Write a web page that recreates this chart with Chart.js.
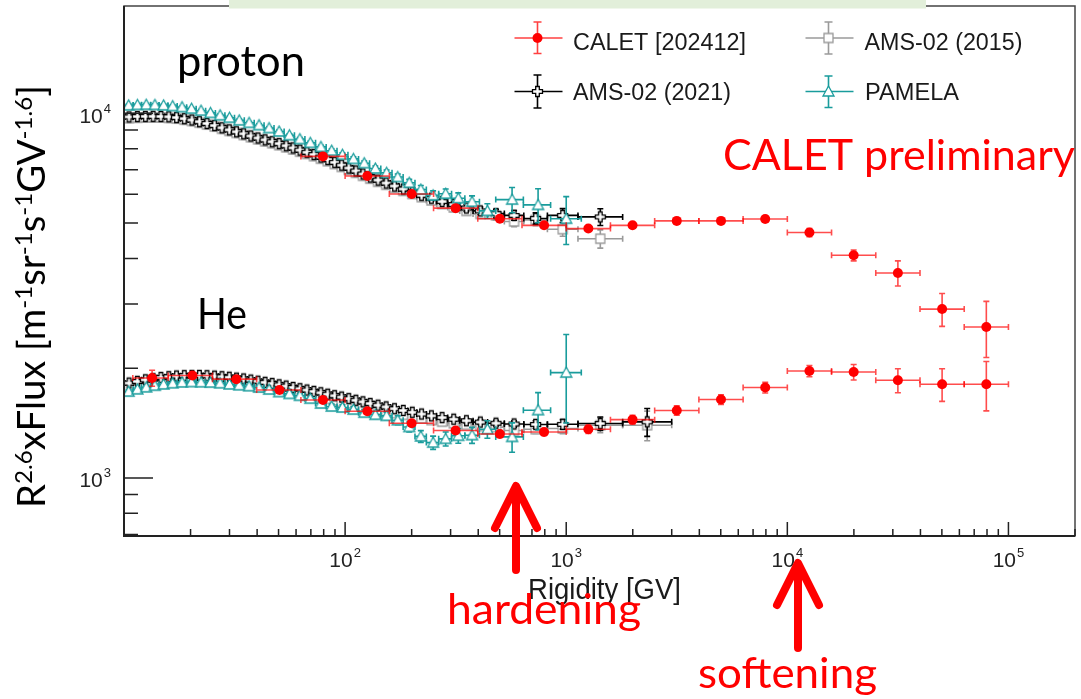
<!DOCTYPE html>
<html>
<head>
<meta charset="utf-8">
<title>Proton and helium spectra</title>
<script src="https://cdn.jsdelivr.net/npm/chart.js@4.4.1/dist/chart.umd.min.js"></script>
<style>
  html, body { margin: 0; padding: 0; background: #fff; }
  #wrap { position: relative; width: 1081px; height: 699px; }
</style>
</head>
<body>
<div id="wrap"><canvas id="fluxChart" width="1081" height="699"></canvas></div>
<script>
// ---- CALET (proton / He), bins of 0.2 decade ----
const caletP_R = [79.4, 126, 200, 316, 501, 794, 1259, 1995, 3162, 5012, 7943, 12589, 19953, 31623, 50119, 79433];
const caletP_F = [7620, 6730, 6010, 5495, 5140, 4930, 4830, 4930, 5070, 5070, 5130, 4710, 4080, 3650, 2905, 2594];
const caletP_err = [45, 40, 35, 35, 35, 40, 45, 50, 60, 70, 90, 120, 140, 290, 300, 455];
const caletP_edges = [63.1, 100, 158.5, 251.2, 398.1, 631, 1000, 1585, 2512, 3981, 6310, 10000, 15849, 25119, 39811, 63096, 100000];

const caletHe_R = [13.4, 20.4, 32.2, 50.5, 79.4, 126, 200, 316, 501, 794, 1259, 1995, 3162, 5012, 7943, 12589, 19953, 31623, 50119, 79433];
const caletHe_F = [1880, 1909, 1866, 1743, 1636, 1524, 1412, 1349, 1320, 1337, 1360, 1445, 1531, 1641, 1770, 1965, 1952, 1853, 1807, 1807];
const caletHe_err = [95, 30, 25, 25, 25, 25, 25, 25, 28, 30, 35, 40, 45, 50, 60, 70, 95, 140, 185, 280];
const caletHe_edges = [10.96, 15.85, 25.12, 39.81, 63.1, 100, 158.5, 251.2, 398.1, 631, 1000, 1585, 2512, 3981, 6310, 10000, 15849, 25119, 39811, 63096, 100000];

// ---- AMS-02 rigidity bins above 10 GV ----
const amsEdges = [10.1, 11.0, 12.0, 13.0, 14.1, 15.3, 16.6, 18.0, 19.5, 21.1, 22.8, 24.7, 26.7, 28.8, 31.1, 33.5, 36.1, 38.9, 41.9, 45.1,
  48.5, 52.2, 56.1, 60.3, 64.8, 69.7, 74.9, 80.5, 86.5, 93.0, 100, 108, 116, 125, 135, 147, 160, 175, 192, 211,
  233, 259, 291, 330, 379, 441, 525, 643, 822, 1130, 1800, 3000];

const ams21P_F = [9780, 9800, 9810, 9815, 9805, 9785, 9740, 9670, 9590, 9490, 9380, 9260, 9130, 9010, 8900, 8790, 8670, 8560, 8460, 8360,
  8260, 8150, 8040, 7930, 7820, 7710, 7590, 7470, 7340, 7210, 7080, 6950, 6820, 6690, 6560, 6440, 6320, 6200, 6080, 5960,
  5850, 5730, 5620, 5500, 5400, 5310, 5250, 5150, 5250, 5200];
const ams21P_err = [70, 70, 70, 70, 70, 70, 70, 70, 70, 70, 70, 70, 70, 70, 70, 70, 70, 70, 70, 70,
  70, 70, 70, 70, 70, 70, 70, 70, 70, 70, 70, 70, 70, 70, 70, 70, 75, 80, 85, 90,
  95, 100, 110, 120, 130, 145, 160, 185, 230, 275];

const ams15P_F = [9700, 9730, 9745, 9750, 9745, 9720, 9680, 9610, 9530, 9430, 9320, 9200, 9070, 8950, 8840, 8720, 8600, 8490, 8380, 8280,
  8180, 8070, 7960, 7850, 7740, 7630, 7510, 7390, 7260, 7130, 7000, 6870, 6740, 6620, 6490, 6370, 6250, 6130, 6010, 5890,
  5770, 5640, 5520, 5400, 5300, 5250, 5050, 5100, 4810, 4530];
const ams15P_err = [80, 80, 80, 80, 80, 80, 80, 80, 80, 80, 80, 80, 80, 80, 80, 80, 80, 80, 80, 80,
  80, 80, 80, 80, 80, 80, 80, 80, 80, 80, 80, 80, 80, 80, 80, 80, 85, 90, 95, 100,
  105, 110, 120, 130, 140, 150, 160, 180, 210, 260];

const ams21He_F = [1820, 1840, 1858, 1872, 1885, 1895, 1903, 1908, 1910, 1910, 1907, 1902, 1895, 1888, 1878, 1868, 1855, 1842, 1829, 1815,
  1800, 1786, 1771, 1757, 1742, 1727, 1712, 1697, 1681, 1666, 1650, 1633, 1617, 1600, 1583, 1566, 1548, 1531, 1514, 1497,
  1480, 1464, 1449, 1435, 1423, 1413, 1406, 1402, 1403, 1410, 1425];
const ams21He_err = [15, 15, 15, 15, 15, 15, 15, 15, 15, 15, 15, 15, 15, 15, 15, 15, 15, 15, 15, 15,
  15, 15, 15, 15, 15, 15, 15, 15, 15, 15, 15, 15, 15, 15, 15, 15, 15, 15, 15, 15,
  16, 17, 18, 20, 22, 25, 28, 33, 42, 60, 125];

const ams15He_F = [1765, 1785, 1803, 1817, 1829, 1838, 1846, 1851, 1853, 1853, 1850, 1845, 1838, 1831, 1822, 1812, 1800, 1787, 1774, 1761,
  1747, 1733, 1719, 1705, 1691, 1676, 1662, 1647, 1632, 1617, 1602, 1586, 1570, 1554, 1538, 1522, 1505, 1489, 1473, 1457,
  1441, 1426, 1412, 1399, 1388, 1378, 1349, 1360, 1367, 1395, 1395];
const ams15He_err = [16, 16, 16, 16, 16, 16, 16, 16, 16, 16, 16, 16, 16, 16, 16, 16, 16, 16, 16, 16,
  16, 16, 16, 16, 16, 16, 16, 16, 16, 16, 16, 16, 16, 16, 16, 16, 16, 16, 16, 16,
  17, 18, 19, 21, 23, 26, 30, 35, 45, 65, 130];

// ---- PAMELA ----
const pamR = [10.5, 11.5, 12.6, 13.8, 15.1, 16.6, 18.3, 20.2, 22.3, 24.6, 27.2, 30.0, 33.2, 36.8, 40.8, 45.3, 50.3, 56.0, 62.4, 69.6,
  77.7, 86.9, 97.2, 109, 122, 137, 154, 173, 195, 220, 250, 285, 325, 375, 440, 569, 746, 1000];
const pamEdges = [10.0, 11.0, 12.0, 13.2, 14.4, 15.8, 17.4, 19.2, 21.2, 23.4, 25.9, 28.6, 31.6, 35.0, 38.8, 43.0, 47.7, 53.0, 59.0, 65.8,
  73.5, 82.1, 91.9, 103, 115, 129, 145, 163, 183, 207, 233, 265, 303, 348, 405, 480, 640, 850, 1170];
const pamP_F = [10520, 10550, 10560, 10550, 10520, 10470, 10400, 10300, 10170, 10030, 9880, 9730, 9570, 9420, 9280, 9110, 8920, 8710, 8500, 8300,
  8090, 7900, 7700, 7500, 7300, 7060, 6870, 6690, 6450, 6180, 5960, 6020, 5850, 5720, 5400, 5800, 5610, 5140];
const pamP_err = [80, 80, 80, 80, 80, 80, 80, 80, 80, 80, 80, 80, 80, 80, 80, 80, 80, 80, 80, 80,
  80, 85, 90, 95, 100, 110, 120, 130, 140, 160, 170, 180, 200, 220, 250, 460, 600, 770];
const pamHe_F = [1725, 1750, 1772, 1790, 1805, 1818, 1828, 1832, 1830, 1826, 1818, 1805, 1795, 1785, 1770, 1748, 1720, 1700, 1680, 1650,
  1600, 1570, 1560, 1540, 1510, 1490, 1480, 1440, 1380, 1300, 1250, 1280, 1305, 1310, 1360, 1296, 1534, 1945];
const pamHe_err = [20, 20, 20, 20, 20, 20, 20, 20, 20, 20, 20, 20, 20, 20, 20, 20, 20, 20, 20, 20,
  22, 24, 26, 28, 30, 33, 36, 40, 44, 48, 52, 56, 60, 66, 75, 120, 180, 530];

// axis ticks
const xMajor = [100, 1000, 10000, 100000];
const xMinor = [20, 30, 40, 50, 60, 70, 80, 90, 200, 300, 400, 500, 600, 700, 800, 900,
  2000, 3000, 4000, 5000, 6000, 7000, 8000, 9000, 20000, 30000, 40000, 50000, 60000, 70000, 80000, 90000, 200000];
const yMajor = [1000, 10000];
const yMinor = [700, 800, 900, 2000, 3000, 4000, 5000, 6000, 7000, 8000, 9000];

const RED = '#ff0000';
const TEAL = '#199c9c';
const GREY = '#9a9a9a';

// hollow ROOT-like markers
function makeMarker(kind, color) {
  const c = document.createElement('canvas');
  c.width = 15; c.height = 15;
  const g = c.getContext('2d');
  const m = 7.5;
  g.lineWidth = 1.3;
  g.strokeStyle = color;
  g.fillStyle = '#fff';
  g.beginPath();
  if (kind === 'cross') {
    const a = 5, b = 1.8;
    g.moveTo(m - b, m - a); g.lineTo(m + b, m - a); g.lineTo(m + b, m - b); g.lineTo(m + a, m - b);
    g.lineTo(m + a, m + b); g.lineTo(m + b, m + b); g.lineTo(m + b, m + a); g.lineTo(m - b, m + a);
    g.lineTo(m - b, m + b); g.lineTo(m - a, m + b); g.lineTo(m - a, m - b); g.lineTo(m - b, m - b);
    g.closePath();
  } else if (kind === 'square') {
    g.rect(m - 4.5, m - 4.5, 9, 9);
  } else if (kind === 'triangle') {
    g.moveTo(m, m - 5.5); g.lineTo(m + 5.5, m + 4.5); g.lineTo(m - 5.5, m + 4.5); g.closePath();
  }
  g.fill();
  g.stroke();
  return c;
}

const mkCross = makeMarker('cross', '#000');
const mkSquare = makeMarker('square', GREY);
const mkTri = makeMarker('triangle', TEAL);

function pts(R, F) {
  return R.map((r, i) => ({ x: r, y: F[i] }));
}
function centers(edges, n) {
  const out = [];
  for (let i = 0; i < n; i++) out.push(Math.sqrt(edges[i] * edges[i + 1]));
  return out;
}

const ams21P_R = centers(amsEdges, ams21P_F.length);
const ams21He_R = centers(amsEdges, ams21He_F.length);

function series(label, R, F, err, edges, style, color, barColor, order, radius) {
  return {
    label: label,
    data: pts(R, F),
    err: err,
    edges: edges,
    barColor: barColor,
    pointStyle: style,
    pointRadius: radius || 5,
    pointBackgroundColor: color,
    pointBorderColor: color,
    pointBorderWidth: 0,
    showLine: false,
    order: order
  };
}

const datasets = [
  series('CALET p', caletP_R, caletP_F, caletP_err, caletP_edges, 'circle', RED, 'rgba(255,0,0,0.7)', 0, 5),
  series('CALET He', caletHe_R, caletHe_F, caletHe_err, caletHe_edges, 'circle', RED, 'rgba(255,0,0,0.7)', 1, 5),
  series('PAMELA p', pamR, pamP_F, pamP_err, pamEdges, mkTri, TEAL, TEAL, 2),
  series('PAMELA He', pamR, pamHe_F, pamHe_err, pamEdges, mkTri, TEAL, TEAL, 3),
  series('AMS-02 2021 p', ams21P_R, ams21P_F, ams21P_err, amsEdges, mkCross, '#000', '#000', 4),
  series('AMS-02 2021 He', ams21He_R, ams21He_F, ams21He_err, amsEdges, mkCross, '#000', '#000', 5),
  series('AMS-02 2015 p', ams21P_R, ams15P_F, ams15P_err, amsEdges, mkSquare, GREY, GREY, 6),
  series('AMS-02 2015 He', ams21He_R, ams15He_F, ams15He_err, amsEdges, mkSquare, GREY, GREY, 7)
];

// error bars with end caps, under each dataset's markers
const errorBars = {
  id: 'errorBars',
  beforeDatasetDraw(chart, args) {
    const ds = chart.data.datasets[args.index];
    if (!ds.err) return;
    const xs = chart.scales.x, ys = chart.scales.y, a = chart.chartArea;
    const c = chart.ctx;
    c.save();
    c.beginPath();
    c.rect(a.left, a.top, a.right - a.left, a.bottom - a.top);
    c.clip();
    c.strokeStyle = ds.barColor;
    c.lineWidth = 1.6;
    const cap = 3;
    ds.data.forEach((p, i) => {
      const px = xs.getPixelForValue(p.x), py = ys.getPixelForValue(p.y);
      const x0 = xs.getPixelForValue(ds.edges[i]), x1 = xs.getPixelForValue(ds.edges[i + 1]);
      const y0 = ys.getPixelForValue(p.y + ds.err[i]), y1 = ys.getPixelForValue(p.y - ds.err[i]);
      c.beginPath();
      c.moveTo(x0, py); c.lineTo(x1, py);
      c.moveTo(x0, py - cap); c.lineTo(x0, py + cap);
      c.moveTo(x1, py - cap); c.lineTo(x1, py + cap);
      c.moveTo(px, y0); c.lineTo(px, y1);
      c.moveTo(px - cap, y0); c.lineTo(px + cap, y0);
      c.moveTo(px - cap, y1); c.lineTo(px + cap, y1);
      c.stroke();
    });
    c.restore();
  }
};

// text squeezed/stretched to a given width
function fitText(c, txt, x, y, w, font, color) {
  c.save();
  c.font = font;
  c.fillStyle = color;
  c.textBaseline = 'alphabetic';
  c.textAlign = 'left';
  const m = c.measureText(txt).width;
  c.translate(x, y);
  c.scale(w / m, 1);
  c.fillText(txt, 0, 0);
  c.restore();
}

function powerLabel(c, exp, x, y, align) {
  c.save();
  c.fillStyle = '#222';
  c.textBaseline = 'alphabetic';
  c.textAlign = 'left';
  c.font = '21px "Liberation Sans", Arial, sans-serif';
  const wb = c.measureText('10').width;
  c.font = '13px "Liberation Sans", Arial, sans-serif';
  const we = c.measureText(String(exp)).width;
  const tot = wb + we + 1;
  const left = align === 'center' ? x - tot / 2 : x - tot;
  c.font = '21px "Liberation Sans", Arial, sans-serif';
  c.fillText('10', left, y);
  c.font = '13px "Liberation Sans", Arial, sans-serif';
  c.fillText(String(exp), left + wb + 1, y - 10);
  c.restore();
}

function arrow(c, x, yTip, yEnd, wing, drop) {
  c.save();
  c.strokeStyle = RED;
  c.lineWidth = 8;
  c.lineCap = 'round';
  c.lineJoin = 'round';
  c.beginPath();
  c.moveTo(x, yEnd); c.lineTo(x, yTip + 3);
  c.moveTo(x - wing, yTip + drop); c.lineTo(x, yTip); c.lineTo(x + wing, yTip + drop);
  c.stroke();
  c.restore();
}

function legendEntry(c, cx, cy, yTop, yBot, color, marker) {
  c.save();
  c.strokeStyle = color;
  c.lineWidth = 1.6;
  c.beginPath();
  c.moveTo(cx - 23, cy); c.lineTo(cx + 25, cy);
  c.moveTo(cx, yTop); c.lineTo(cx, yBot);
  c.moveTo(cx - 4, yTop); c.lineTo(cx + 4, yTop);
  c.moveTo(cx - 4, yBot); c.lineTo(cx + 4, yBot);
  c.stroke();
  if (marker) {
    c.drawImage(marker, cx - marker.width / 2, cy - marker.height / 2);
  } else {
    c.fillStyle = RED;
    c.beginPath();
    c.arc(cx, cy, 5, 0, Math.PI * 2);
    c.fill();
  }
  c.restore();
}

const rootFrame = {
  id: 'rootFrame',
  afterDraw(chart) {
    const c = chart.ctx, a = chart.chartArea;
    const xs = chart.scales.x, ys = chart.scales.y;

    // frame
    c.save();
    c.strokeStyle = '#444';
    c.lineWidth = 1.5;
    c.strokeRect(a.left, a.top, a.right - a.left, a.bottom - a.top);
    c.strokeStyle = '#222';
    c.lineWidth = 2;
    c.beginPath();
    c.moveTo(a.left, a.top); c.lineTo(a.left, a.bottom); c.lineTo(a.right, a.bottom);
    c.stroke();

    // ticks
    c.lineWidth = 1.5;
    c.beginPath();
    xMajor.forEach(v => { const x = xs.getPixelForValue(v); c.moveTo(x, a.bottom); c.lineTo(x, a.bottom - 14); });
    xMinor.forEach(v => { const x = xs.getPixelForValue(v); c.moveTo(x, a.bottom); c.lineTo(x, a.bottom - 7); });
    yMajor.forEach(v => { const y = ys.getPixelForValue(v); c.moveTo(a.left, y); c.lineTo(a.left + 29, y); });
    yMinor.forEach(v => { const y = ys.getPixelForValue(v); c.moveTo(a.left, y); c.lineTo(a.left + 14, y); });
    c.stroke();
    c.restore();

    // tick labels
    xMajor.forEach(v => powerLabel(c, Math.round(Math.log10(v)), xs.getPixelForValue(v), a.bottom + 31, 'center'));
    yMajor.forEach(v => powerLabel(c, Math.round(Math.log10(v)), 111, ys.getPixelForValue(v) + 9.5, 'right'));

    // axis titles
    fitText(c, 'Rigidity [GV]', 528, 599, 153, '29px "Liberation Sans", Arial, sans-serif', '#1a1a1a');

    const parts = [['R', 0], ['2.6', 1], ['xFlux [m', 0], ['-1', 1], ['sr', 0], ['-1', 1], ['s', 0], ['-1', 1], ['GV', 0], ['-1.6', 1], [']', 0]];
    const base = 38, sup = 24;
    c.save();
    let tot = 0;
    parts.forEach(p => { c.font = (p[1] ? sup : base) + 'px Lato, "Open Sans", sans-serif'; tot += c.measureText(p[0]).width; });
    c.translate(45, 508);
    c.rotate(-Math.PI / 2);
    c.scale(423 / tot, 1);
    c.fillStyle = '#000';
    c.textBaseline = 'alphabetic';
    let px = 0;
    parts.forEach(p => {
      c.font = (p[1] ? sup : base) + 'px Lato, "Open Sans", sans-serif';
      c.fillText(p[0], px, p[1] ? -13 : 0);
      px += c.measureText(p[0]).width;
    });
    c.restore();

    // legend
    legendEntry(c, 537.5, 38, 22, 53.5, 'rgba(255,0,0,0.75)', null);
    legendEntry(c, 537.5, 91.5, 75, 108, '#000', mkCross);
    legendEntry(c, 828.5, 38, 22, 54, GREY, mkSquare);
    legendEntry(c, 828.5, 91.5, 76, 107.5, TEAL, mkTri);
    const lf = '23px "Liberation Sans", Arial, sans-serif';
    fitText(c, 'CALET [202412]', 573, 49.5, 173, lf, '#1a1a1a');
    fitText(c, 'AMS-02 (2021)', 573, 100, 158, lf, '#1a1a1a');
    fitText(c, 'AMS-02 (2015)', 864.5, 49.5, 158, lf, '#1a1a1a');
    fitText(c, 'PAMELA', 865, 100, 94, lf, '#1a1a1a');

    // slide annotations
    const sf = '42px Lato, "Open Sans", sans-serif';
    fitText(c, 'proton', 177, 76, 128, sf, '#000');
    fitText(c, 'He', 197, 329, 50, sf, '#000');
    fitText(c, 'CALET preliminary', 723, 170, 352, sf, RED);
    fitText(c, 'hardening', 447, 624, 194, sf, RED);
    fitText(c, 'softening', 698, 688, 179, sf, RED);

    arrow(c, 516, 486, 570, 21, 42);
    arrow(c, 798, 563, 648, 21, 42);

    // light green strip at the top edge
    c.save();
    c.fillStyle = '#e2efda';
    c.fillRect(229, 0, 697, 8.5);
    c.restore();
  }
};

new Chart(document.getElementById('fluxChart').getContext('2d'), {
  type: 'scatter',
  data: { datasets: datasets },
  options: {
    responsive: false,
    animation: false,
    layout: { padding: { left: 124, top: 6, right: 6, bottom: 163 } },
    plugins: { legend: { display: false }, tooltip: { enabled: false } },
    scales: {
      x: { type: 'logarithmic', min: 10, max: 200000, display: false },
      y: { type: 'logarithmic', min: 693, max: 19700, display: false }
    }
  },
  plugins: [errorBars, rootFrame]
});
</script>
</body>
</html>
